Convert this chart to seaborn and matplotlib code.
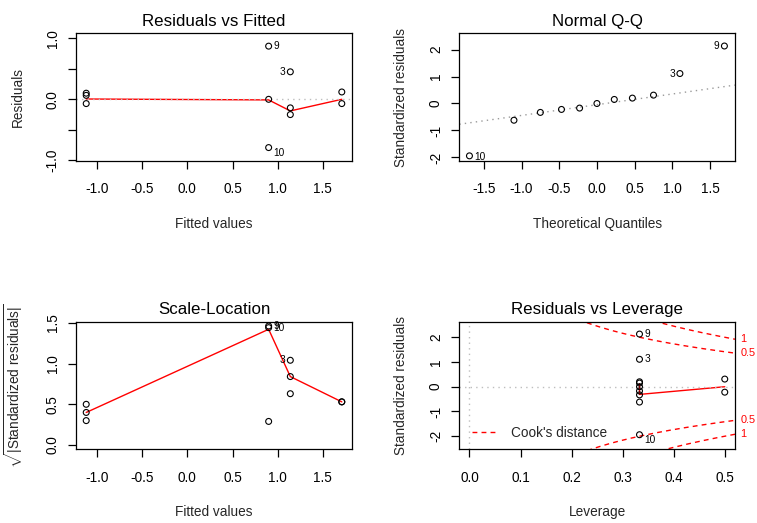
import numpy as np
import pandas as pd
import matplotlib
matplotlib.use("Agg")
import matplotlib.pyplot as plt
import seaborn as sns
from matplotlib.lines import Line2D

# ---------------- data ----------------
obs_ids = ["1", "2", "3", "4", "5", "6", "7", "8", "9", "10", "11"]
flagged_ids = ["3", "9", "10"]

fitted = [-1.12, -1.12, 1.14, -1.12, 1.14, 0.90, 1.14, 1.71, 0.90, 0.90, 1.71]
residuals = [0.10, 0.065, 0.45, -0.07, -0.14, 0.00, -0.25, 0.12, 0.87, -0.79, -0.07]
rvf_smooth_x = [-1.12, 0.90, 1.14, 1.71]
rvf_smooth_y = [0.005, -0.01, -0.19, 0.0]

std_resid = [0.20, 0.15, 1.11, -0.17, -0.33, 0.00, -0.62, 0.31, 2.13, -1.94, -0.22]
qq_theoretical = [-1.69, -1.10, -0.75, -0.47, -0.23, 0.00, 0.23, 0.47, 0.75, 1.10, 1.69]
qq_line_intercept = -0.045
qq_line_slope = 0.397

sqrt_abs_std_resid = [0.50, 0.40, 1.04, 0.30, 0.63, 0.29, 0.84, 0.53, 1.46, 1.44, 0.53]
sl_smooth_x = [-1.12, 0.90, 1.14, 1.71]
sl_smooth_y = [0.40, 1.42, 0.84, 0.53]

leverage = [0.333, 0.333, 0.333, 0.333, 0.333, 0.333, 0.333, 0.5, 0.333, 0.333, 0.5]
lev_smooth_x = [0.333, 0.333, 0.5]
lev_smooth_y = [0.12, -0.31, 0.0]
n_params = 4
cook_levels = [0.5, 1]
cook_level_labels = ["0.5", "1"]

titles = ["Residuals vs Fitted", "Normal Q-Q", "Scale-Location", "Residuals vs Leverage"]
xlabels = ["Fitted values", "Theoretical Quantiles", "Fitted values", "Leverage"]
ylabels = ["Residuals", "Standardized residuals",
           r"$\sqrt{|\mathrm{Standardized\ residuals}|}$", "Standardized residuals"]

fit_xticks = [-1.0, -0.5, 0.0, 0.5, 1.0, 1.5]
fit_xticklabels = ["-1.0", "-0.5", "0.0", "0.5", "1.0", "1.5"]
rvf_yticks = [-1.0, -0.5, 0.0, 0.5, 1.0]
rvf_yticklabels = ["-1.0", "", "0.0", "", "1.0"]
qq_xticks = [-1.5, -1.0, -0.5, 0.0, 0.5, 1.0, 1.5]
qq_xticklabels = ["-1.5", "-1.0", "-0.5", "0.0", "0.5", "1.0", "1.5"]
std_yticks = [-2, -1, 0, 1, 2]
std_yticklabels = ["-2", "-1", "0", "1", "2"]
sl_yticks = [0.0, 0.5, 1.0, 1.5]
sl_yticklabels = ["0.0", "0.5", "1.0", "1.5"]
lev_xticks = [0.0, 0.1, 0.2, 0.3, 0.4, 0.5]
lev_xticklabels = ["0.0", "0.1", "0.2", "0.3", "0.4", "0.5"]

rvf_xlim, rvf_ylim = (-1.233, 1.823), (-1.005, 1.08)
qq_xlim, qq_ylim = (-1.825, 1.83), (-2.12, 2.60)
sl_xlim, sl_ylim = (-1.233, 1.823), (-0.052, 1.513)
lev_xlim, lev_ylim = (-0.02, 0.52), (-2.53, 2.63)

# ---------------- style ----------------
sns.set_style("ticks")
plt.rcParams["font.family"] = ["Liberation Sans", "DejaVu Sans"]
plt.rcParams["mathtext.fontset"] = "custom"
plt.rcParams["mathtext.rm"] = "Liberation Sans"
plt.rcParams["mathtext.it"] = "Liberation Sans:italic"
plt.rcParams["axes.unicode_minus"] = False

FS = 9.8
TITLE_FS = 12.2
ID_FS = 7.3
GREY = "#BEBEBE"
DOT = (0, (1, 3))

fig = plt.figure(figsize=(7.57, 5.23), dpi=100)
fig.patch.set_facecolor("white")
ax_rvf = fig.add_axes([0.1004, 0.6927, 0.3646, 0.2436])
ax_qq = fig.add_axes([0.6067, 0.6927, 0.3642, 0.2436])
ax_sl = fig.add_axes([0.1004, 0.1409, 0.3646, 0.2440])
ax_lev = fig.add_axes([0.6067, 0.1409, 0.3642, 0.2440])


def style_axis(ax, title, xlabel, ylabel, xticks, xtl, yticks, ytl, xlim, ylim):
    ax.set_facecolor("white")
    for sp in ax.spines.values():
        sp.set_visible(True)
        sp.set_color("black")
        sp.set_linewidth(0.9)
    ax.set_xlim(*xlim)
    ax.set_ylim(*ylim)
    ax.set_xticks(xticks)
    ax.set_xticklabels(xtl)
    ax.set_yticks(yticks)
    ax.set_yticklabels(ytl, rotation=90, va="center")
    ax.tick_params(axis="both", direction="out", length=5.8, width=0.9,
                   labelsize=FS, color="black", labelcolor="black")
    ax.tick_params(axis="x", pad=9.5)
    ax.tick_params(axis="y", pad=6)
    ax.set_title(title, fontsize=TITLE_FS, pad=5.5, color="black")
    ax.set_xlabel(xlabel, fontsize=FS, labelpad=15)
    ax.set_ylabel(ylabel, fontsize=FS, labelpad=15)
    ax.grid(False)


def points(ax, xs, ys):
    sns.scatterplot(x=xs, y=ys, ax=ax, marker="o", s=18, facecolor="none",
                    edgecolor="black", linewidth=0.8, zorder=3, clip_on=False)


def smooth(ax, xs, ys):
    sns.lineplot(x=xs, y=ys, ax=ax, color="red", sort=False, estimator=None,
                 lw=1.0, zorder=2)


def label_ids(ax, xs, ys, ids, shift_neg=0.0):
    sel = [i for i, o in enumerate(ids) if o in flagged_ids]
    lx = [xs[i] for i in sel]
    mid = (min(lx) + max(lx)) / 2
    for i in sel:
        right = xs[i] <= mid + 1e-9
        dy = -shift_neg if ys[i] < 0 else 0.0
        ax.annotate(ids[i], (xs[i], ys[i]), xytext=(3.5 if right else -3.5, dy),
                    textcoords="offset points", ha="left" if right else "right",
                    va="center", fontsize=ID_FS, color="black", annotation_clip=False)


# Residuals vs Fitted
smooth(ax_rvf, rvf_smooth_x, rvf_smooth_y)
ax_rvf.axhline(0, color=GREY, ls=DOT, lw=1.0, zorder=2.5)
points(ax_rvf, fitted, residuals)
label_ids(ax_rvf, fitted, residuals, obs_ids, shift_neg=4)
style_axis(ax_rvf, titles[0], xlabels[0], ylabels[0], fit_xticks, fit_xticklabels,
           rvf_yticks, rvf_yticklabels, rvf_xlim, rvf_ylim)

# Normal Q-Q
order = np.argsort(std_resid)
qq_sample = [std_resid[i] for i in order]
qq_ids = [obs_ids[i] for i in order]
ax_qq.axline((0, qq_line_intercept), slope=qq_line_slope, color="#9a9a9a",
             ls=DOT, lw=1.0, zorder=2)
points(ax_qq, qq_theoretical, qq_sample)
label_ids(ax_qq, qq_theoretical, qq_sample, qq_ids, shift_neg=1)
style_axis(ax_qq, titles[1], xlabels[1], ylabels[1], qq_xticks, qq_xticklabels,
           std_yticks, std_yticklabels, qq_xlim, qq_ylim)

# Scale-Location
smooth(ax_sl, sl_smooth_x, sl_smooth_y)
points(ax_sl, fitted, sqrt_abs_std_resid)
label_ids(ax_sl, fitted, sqrt_abs_std_resid, obs_ids)
style_axis(ax_sl, titles[2], xlabels[2], ylabels[2], fit_xticks, fit_xticklabels,
           sl_yticks, sl_yticklabels, sl_xlim, sl_ylim)

# Residuals vs Leverage
smooth(ax_lev, lev_smooth_x, lev_smooth_y)
ax_lev.axhline(0, color=GREY, ls=DOT, lw=1.0, zorder=2.5)
ax_lev.axvline(0, color=GREY, ls=DOT, lw=1.0, zorder=2.5)
points(ax_lev, leverage, std_resid)
label_ids(ax_lev, leverage, std_resid, obs_ids, shift_neg=4)
style_axis(ax_lev, titles[3], xlabels[3], ylabels[3], lev_xticks, lev_xticklabels,
           std_yticks, std_yticklabels, lev_xlim, lev_ylim)

hh = np.linspace(0.001, lev_xlim[1], 200)
xmax = lev_xlim[1]
for lvl, lab in zip(cook_levels, cook_level_labels):
    cl = np.sqrt(lvl * n_params * (1 - hh) / hh)
    for sgn in (1, -1):
        sns.lineplot(x=hh, y=sgn * cl, ax=ax_lev, color="red", lw=1.0,
                     estimator=None, sort=False, dashes=False, zorder=2)
        ax_lev.lines[-1].set_linestyle((0, (3.5, 3)))
        yl = sgn * np.sqrt(lvl * n_params * (1 - xmax) / xmax)
        ax_lev.annotate(lab, (xmax, yl), xytext=(4, 0), textcoords="offset points",
                        ha="left", va="center", fontsize=ID_FS + 0.5, color="red",
                        annotation_clip=False)

handle = Line2D([0], [0], color="red", lw=1.0, ls=(0, (3.5, 3)))
ax_lev.legend([handle], ["Cook's distance"], loc="center left",
              bbox_to_anchor=(0.045, 0.128), frameon=False, fontsize=FS,
              handlelength=1.7, handletextpad=1.2, borderpad=0, borderaxespad=0)

fig.savefig("out.png", dpi=100, facecolor="white")
